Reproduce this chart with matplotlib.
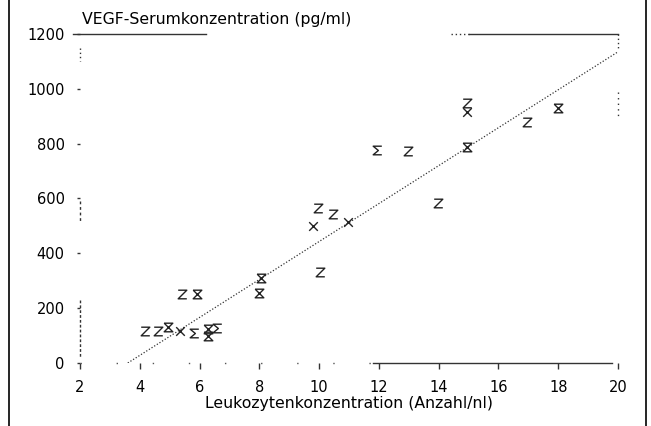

# import libraries
import matplotlib
matplotlib.use( "Agg" )
import matplotlib.pyplot as plt
from matplotlib.path import Path
from matplotlib.lines import Line2D

# data
leukozyten = [ 4.17, 4.6, 4.94, 5.34, 5.81, 6.28, 6.28, 6.6, 5.41, 5.91, 8.05, 8.0,
               9.96, 10.46, 9.79, 10.96, 10.03, 11.93, 12.97, 14.94, 14.94, 14.94,
               13.97, 16.95, 17.99 ]
vegf = [ 115, 118, 130, 118, 108, 125, 100, 128, 252, 252, 310, 255,
         566, 544, 500, 515, 332, 777, 774, 788, 949, 916,
         584, 880, 930 ]

# how each symbol came out in the print (Z, X, S = sigma, H = hourglass)
glyphs = [ "Z", "Z", "H", "X", "S", "H", "H", "S", "Z", "H", "H", "H",
           "Z", "Z", "X", "X", "Z", "S", "Z", "H", "Z", "X",
           "Z", "Z", "H" ]

# regression line
slope = 69.2
intercept = -249.0

xTicks = [ 2, 4, 6, 8, 10, 12, 14, 16, 18, 20 ]
yTicks = [ 0, 200, 400, 600, 800, 1000, 1200 ]

yTitle = "VEGF-Serumkonzentration (pg/ml)"
xTitle = "Leukozytenkonzentration (Anzahl/nl)"


def glyphPath( code ):
    if code == "Z":
        verts = [ ( -1, 1 ), ( 1, 1 ), ( -1, -1 ), ( 1, -1 ) ]
        codes = [ Path.MOVETO, Path.LINETO, Path.LINETO, Path.LINETO ]
    elif code == "X":
        verts = [ ( -1, 1 ), ( 1, -1 ), ( 1, 1 ), ( -1, -1 ) ]
        codes = [ Path.MOVETO, Path.LINETO, Path.MOVETO, Path.LINETO ]
    elif code == "S":
        verts = [ ( 1, 1 ), ( -1, 1 ), ( 0.2, 0 ), ( -1, -1 ), ( 1, -1 ) ]
        codes = [ Path.MOVETO, Path.LINETO, Path.LINETO, Path.LINETO, Path.LINETO ]
    else:
        verts = [ ( -1, 1 ), ( 1, 1 ), ( -1, -1 ), ( 1, -1 ), ( -1, 1 ) ]
        codes = [ Path.MOVETO, Path.LINETO, Path.LINETO, Path.LINETO, Path.LINETO ]
    return Path( verts, codes )


def main( ):
    plt.rcParams[ "font.family" ] = "DejaVu Sans"

    fig = plt.figure( figsize = ( 6.51, 4.26 ), dpi = 100 )
    ax = fig.add_axes( [ 0.1229, 0.1479, 0.8264, 0.7723 ] )

    #  regression line, dotted
    xStart = -intercept / slope
    ax.plot( [ xStart, 20 ], [ 0, slope * 20 + intercept ], linestyle = ( 0, ( 1, 1.5 ) ),
             color = "#333333", linewidth = 0.9 )

    #  data symbols
    for index in range( 0, len( leukozyten ) ):
        ax.plot( leukozyten[ index ], vegf[ index ], marker = glyphPath( glyphs[ index ] ),
                 markersize = 6.2, markeredgewidth = 1.0, color = "#222222",
                 fillstyle = "none", linestyle = "none" )

    ax.set_xlim( 2, 20 )
    ax.set_ylim( 0, 1200 )
    ax.set_xticks( xTicks )
    ax.set_yticks( yTicks )

    #  the printed frame is only partly visible
    for spine in ax.spines.values():
        spine.set_visible( False )

    #  top edge
    ax.plot( [ 1.75, 6.2 ], [ 1200, 1200 ], color = "#333333", linewidth = 1.0, clip_on = False )
    ax.plot( [ 14.4, 15.0 ], [ 1200, 1200 ], color = "#333333", linewidth = 1.0,
             linestyle = ( 0, ( 1, 2 ) ), clip_on = False )
    ax.plot( [ 15.0, 20 ], [ 1200, 1200 ], color = "#333333", linewidth = 1.0, clip_on = False )
    #  right edge
    ax.plot( [ 20, 20 ], [ 1200, 1140 ], color = "#333333", linewidth = 1.0,
             linestyle = ( 0, ( 1, 2 ) ), clip_on = False )
    ax.plot( [ 20, 20 ], [ 990, 895 ], color = "#333333", linewidth = 1.0,
             linestyle = ( 0, ( 1, 3 ) ), clip_on = False )
    #  bottom edge
    ax.plot( [ 2, 11.8 ], [ 0, 0 ], color = "#555555", linewidth = 1.0,
             linestyle = ( 0, ( 1, 25 ) ), clip_on = False )
    ax.plot( [ 11.8, 19.8 ], [ 0, 0 ], color = "#333333", linewidth = 1.0, clip_on = False )
    #  left edge
    ax.plot( [ 2, 2 ], [ 1150, 1100 ], color = "#333333", linewidth = 1.0,
             linestyle = ( 0, ( 1, 2 ) ), clip_on = False )
    ax.plot( [ 2, 2 ], [ 590, 515 ], color = "#333333", linewidth = 1.0,
             linestyle = ( 0, ( 2, 2 ) ), clip_on = False )
    ax.plot( [ 2, 2 ], [ 230, 20 ], color = "#333333", linewidth = 1.0,
             linestyle = ( 0, ( 2, 1.5 ) ), clip_on = False )

    ax.tick_params( axis = "x", direction = "out", length = 4, width = 1, pad = 8,
                    labelsize = 10.5, color = "#333333" )
    ax.tick_params( axis = "y", direction = "out", length = 2, width = 1, pad = 9,
                    labelsize = 10.5, color = "#333333" )

    #  axis titles
    ax.text( 0.003, 1.045, yTitle, transform = ax.transAxes, fontsize = 11.3,
             ha = "left", va = "center" )
    ax.set_xlabel( xTitle, fontsize = 11.3, labelpad = 1 )

    #  side edges of the scanned page
    fig.add_artist( Line2D( [ 0.0138, 0.0138 ], [ 0, 1 ], color = "black", linewidth = 1.2 ) )
    fig.add_artist( Line2D( [ 0.9923, 0.9923 ], [ 0, 1 ], color = "black", linewidth = 1.2 ) )

    fig.savefig( "out.png", dpi = 100 )


main()
